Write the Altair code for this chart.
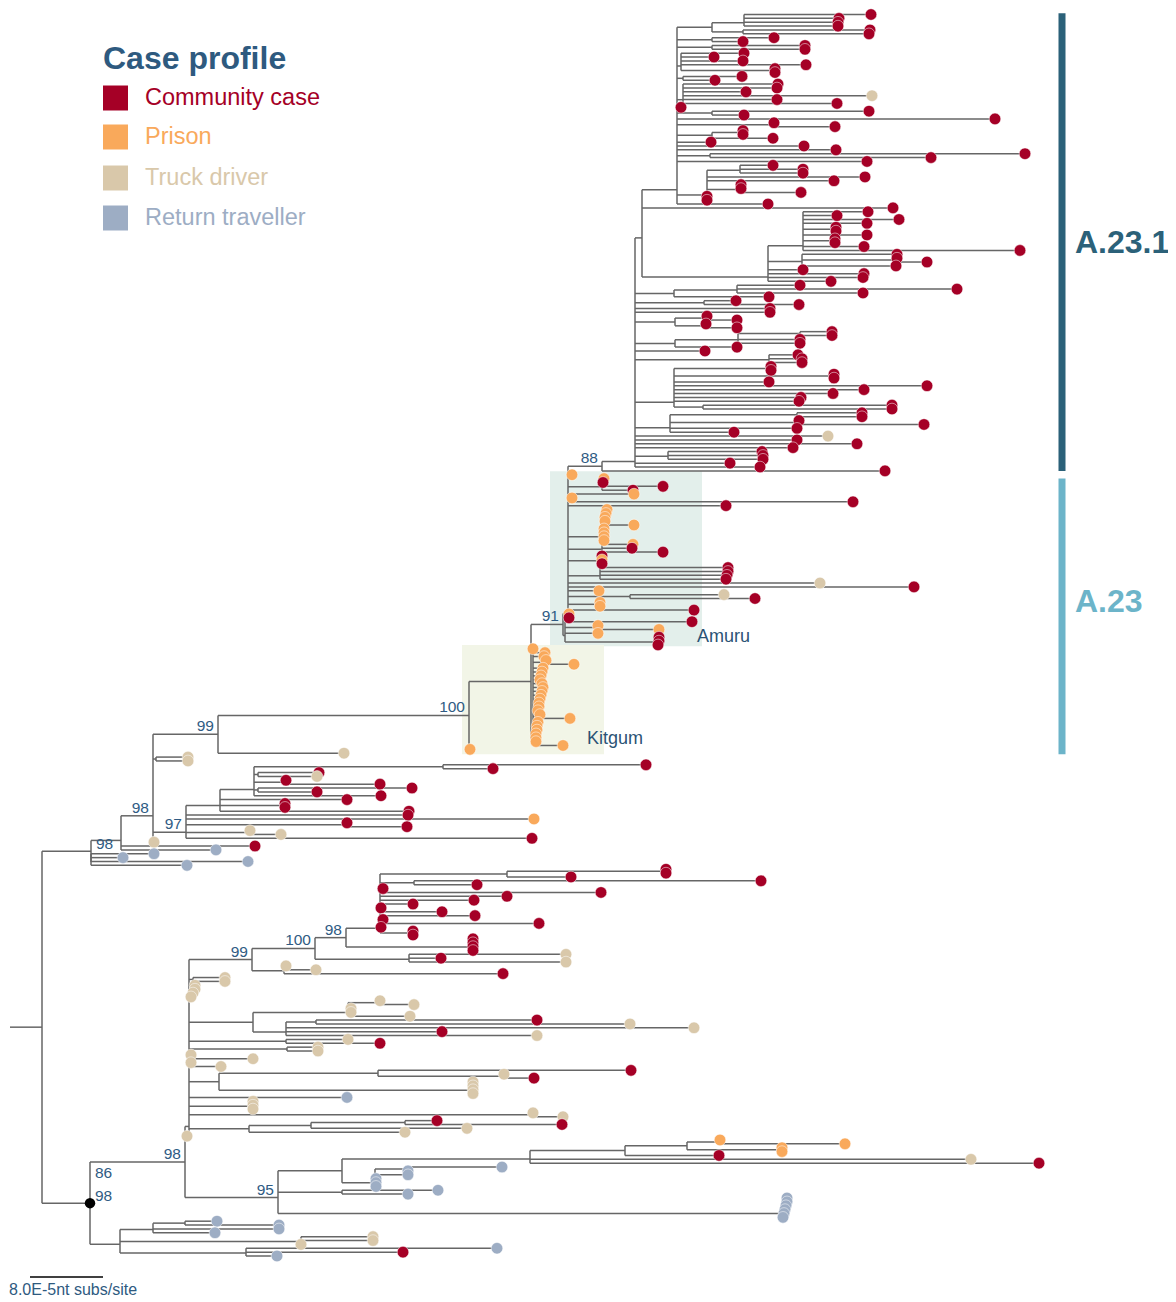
import altair as alt
import pandas as pd

# ---------------- data ----------------
CATEGORIES = ["Community case", "Prison", "Truck driver", "Return traveller"]
CODES = ["C", "P", "T", "R"]
COLORS = ["#a50026", "#f9a95b", "#d9c8aa", "#9dadc4"]

SCALE_LABEL = "8.0E-5nt subs/site"
SCALE_LEN = 73          # divergence units of the scale bar (= 8.0E-5 subs/site)
ROOT_STEM = 10          # divergence at the start of the root branch

# Tree: tip = <case code><divergence>; node = (children)<divergence>[#support][r][*][@name]
SUB_A = ("(((C871,C839,C838,C838)744,(C870,C869)743)712,(C774,C743)712,(C805,C805)712,"
         "(C744,C714,C743,C806,(C775,C775)775)681,(C742,C715)683,(C778,C777,C746,T872,C777,C837)683,"
         "C681,(C869,C744)712,C995,(C774,C835)773,((C743,C743)743,C773)712,C711,C804,C836,"
         "(C1025,C931)710,C867,((C773,C803,C803)740,C865,C834,(C741,C741,C801)741,C707,C707)707,C768)677")
SUB_B = ("((C868,C837,C899,C867,(C836,C836)836,C867,(C835,C835)835,C864,C1020)803,"
         "(C897,(C897,C927)897,C896)802,C803,C864,C863,C831)768")
A231 = ("((" + SUB_A + ",C893," + SUB_B + ")642,((C800,C957,C863)737,C769)674,(C736,C799)704,C770,C770,"
        "((C707,C737)707,(C706,C737)706)675,(((C832,C832)800,C800,C800)738,C737)675,C705,(C798,C802,C802)769,"
        "((C771,C771)771,(C834,C834)834,C769,C927,C864,C833,C801,C799,(C892,C892)703)674,"
        "((C862,C862)797,(C799,C924)799,C797,C734)670,T828,C797,C857,C793,(C762,C763,C763)668,C730,C760)635")
N88 = "(" + A231 + ",C885)602#88@A231"
AMURU_UP = ("(" + N88 + ",P572,(P604,C603,C663,C633)602,P634,P572,C853,C726,"
            "(P607,P606,P605,P605,P634,P604,P604,P604,P604)603,(P633,C632,C663)602,(C602,P602,C602)601,"
            "(C728,C728,C727,C726)600,T820,C914,P599,(T724,C755)630,(P600,P600)600,C694,P569,C569)568")
AMURU_LOW = "(C692,(P598,P659)598,P598,(C659,C659,C658)658)565"
N91 = "(" + AMURU_UP + "," + AMURU_LOW + ")563#91@N91"
KITGUM = ("(P533,P545,P544,(P546,P574)546,P543,P542,P541,P540,P542,P543,P542,P541,P540,P539,P539,P538,"
          "(P540,P570)540,P538,P537,P537,P536,P536,(P536,P563)536)533@KIT")
N100 = "((" + N91 + "," + KITGUM + ")531,P470)469#100@A23"
N99 = "(" + N100 + ",T344)218#99"
N254 = "((C646,C493)443,(C319,T317)258,(C286,C380)286,(C412,C317)258,C381)254"
N220 = "(" + N254 + ",C347,(C285,C285)284,C409)220"
N186 = "(" + N220 + ",C408,P534,(C347,C407)347,(T250,T281)250,C532)186#97"
N153 = "(" + N99 + ",(T188,T188)156," + N186 + ",T154)153#98"
N121 = "(" + N153 + ",C255,R216)121"
UPPER = "(" + N121 + ",(R154,R123,R248,R187)91)91#98r"

N380 = ("(((C666,C666)665,C571)507,(C761,C477)414,C383,C601,C507,C474,C413,C381,C442,C475,"
        "C383,C539,C381,(C413,C413)413)380")
N252 = ("(((" + N380 + ",(C473,C473,C473,C473)472)346#98,(T566,C441,T566)409)315#100,"
        "((T286,T316)286,C503)284)252#99")
N253 = "(((T380,T414)380,T351,T351,T410)348,((C537,T630)316,T694,C442,T537)286)253"
N219 = "((C631,(T504,C534)504)378,(T473,T473,T473,T473)473)219"
N249 = "(((C437,C562)405,T467)311,T405)249"
REST = ("(" + N252 + ",(T225,T225)193,T195,T195,T193,T191," + N253 + ",(T348,C380)286,(T318,T318)287,"
        "(T191,T253)191,(T191,T221)191," + N219 + ",R347,(T253,T253,T253)252,(T533,T563)533," + N249 + ",T187)189")
N530 = "((((P720,P845)720,(P782,P782)782)687,C719)625,T971,C1039)530"
N375 = "((R502,R408)408,R408,R376,R376,R376)375"
N278 = "((" + N530 + "," + N375 + ")342,(R438,R408)342,(R787,R787,R786,R785,R784,R783)783)278#95"
N185 = "(" + REST + "," + N278 + ")185#98"
N120 = "(((R217,R279)185,R279,R215)153,(T373,T373,T301)301,(R497,C403,R277)246)120"
LOWER = "(" + N185 + "," + N120 + ")90#98r*@BLACK"
TREE = "(" + UPPER + "," + LOWER + ")42"

EXTRA_SUPPORT = "86"   # second support value printed beside the marked node

# ---------------- parse + layout ----------------
def parse_tree(s):
    pos = 0
    named = {}

    def number():
        nonlocal pos
        st = pos
        while pos < len(s) and (s[pos].isdigit() or s[pos] == "."):
            pos += 1
        return float(s[st:pos])

    def node():
        nonlocal pos
        if s[pos] == "(":
            pos += 1
            kids = [node()]
            while s[pos] == ",":
                pos += 1
                kids.append(node())
            pos += 1
            n = {"x": number(), "kids": kids, "label": None, "side": "l", "mark": False}
            while pos < len(s) and s[pos] in "#r*@":
                c = s[pos]
                pos += 1
                if c == "#":
                    st = pos
                    while pos < len(s) and s[pos].isdigit():
                        pos += 1
                    n["label"] = s[st:pos]
                elif c == "r":
                    n["side"] = "r"
                elif c == "*":
                    n["mark"] = True
                else:
                    st = pos
                    while pos < len(s) and s[pos].isalnum():
                        pos += 1
                    named[s[st:pos]] = n
            return n
        c = s[pos]
        pos += 1
        return {"x": number(), "cat": c}

    return node(), named


root, named = parse_tree(TREE)
tips, edges, labels, marks = [], [], [], []
counter = [0]


def layout(n):
    if "cat" in n:
        n["y"] = float(counter[0])
        n["tmin"] = n["tmax"] = counter[0]
        counter[0] += 1
        tips.append({"x": n["x"], "y": n["y"], "cat": CATEGORIES[CODES.index(n["cat"])]})
        return
    for k in n["kids"]:
        layout(k)
    y = n["kids"][0]["y"]
    for k in n["kids"][1:]:
        y = (y + k["y"]) / 2.0
    n["y"] = y
    n["tmin"] = n["kids"][0]["tmin"]
    n["tmax"] = n["kids"][-1]["tmax"]
    ys_ = [k["y"] for k in n["kids"]]
    if len(ys_) > 1:
        edges.append({"x": n["x"], "x2": n["x"], "y": min(ys_), "y2": max(ys_)})
    for k in n["kids"]:
        edges.append({"x": n["x"], "x2": k["x"], "y": k["y"], "y2": k["y"]})
    if n["label"]:
        labels.append({"x": n["x"], "y": n["y"], "t": n["label"], "side": n["side"]})
    if n["mark"]:
        marks.append({"x": n["x"], "y": n["y"]})


layout(root)
edges.append({"x": ROOT_STEM, "x2": root["x"], "y": root["y"], "y2": root["y"]})
n_tips = counter[0]

FIRST_TIP_Y, LAST_TIP_Y = 14.5, 1256.0
px_per_tip = (LAST_TIP_Y - FIRST_TIP_Y) / (n_tips - 1)
black = named["BLACK"]
labels.append({"x": black["x"], "y": black["y"] - 23 / px_per_tip, "t": EXTRA_SUPPORT, "side": "r"})

a231, n91, kit, a23 = named["A231"], named["N91"], named["KIT"], named["A23"]
boxes = pd.DataFrame([
    {"x": 550, "x2": 702, "y": a231["tmax"] + 1 - 0.9, "y2": n91["tmax"] + 0.35, "fill": "#e3efeb"},
    {"x": 462, "x2": 604, "y": kit["tmin"] - 1.0, "y2": a23["tmax"] + 1.3, "fill": "#f2f5e7"},
])
bars = pd.DataFrame([
    {"x": 1062, "y": a231["tmin"] - 0.35, "y2": a231["tmax"], "c": "#2b6179"},
    {"x": 1062, "y": a231["tmax"] + 2.0, "y2": a23["tmax"] + 1.3, "c": "#6cb4c9"},
])

# ---------------- chart ----------------
FONT = "Liberation Sans"
W, H = 1160, 1293
xs = alt.Scale(domain=[8, 8 + W], nice=False, zero=False)
ysc = alt.Scale(domain=[0, n_tips - 1], range=[FIRST_TIP_Y - 8, LAST_TIP_Y - 8], nice=False, zero=False)
X = lambda f: alt.X(f, type="quantitative", scale=xs, axis=None)
Y = lambda f: alt.Y(f, type="quantitative", scale=ysc, axis=None)

box_layer = alt.Chart(boxes).mark_rect().encode(
    x=X("x"), x2="x2", y=Y("y"), y2="y2", color=alt.Color("fill:N", scale=None))
bar_layer = alt.Chart(bars).mark_rule(strokeWidth=7).encode(
    x=X("x"), y=Y("y"), y2="y2", color=alt.Color("c:N", scale=None))
edge_layer = alt.Chart(pd.DataFrame(edges)).mark_rule(color="#666666", strokeWidth=1.5).encode(
    x=X("x"), x2="x2", y=Y("y"), y2="y2")
tip_layer = alt.Chart(pd.DataFrame(tips)).mark_circle(size=135, opacity=1, stroke="white", strokeWidth=0.5).encode(
    x=X("x"), y=Y("y"),
    color=alt.Color("cat:N", scale=alt.Scale(domain=CATEGORIES, range=COLORS), legend=None))
mark_layer = alt.Chart(pd.DataFrame(marks)).mark_circle(size=110, color="black", opacity=1).encode(
    x=X("x"), y=Y("y"))
lab_df = pd.DataFrame(labels)
lab_left = alt.Chart(lab_df[lab_df.side == "l"]).mark_text(
    align="right", baseline="middle", dx=-4, dy=-8, fontSize=15.5, font=FONT, color="#2f5b83").encode(
    x=X("x"), y=Y("y"), text="t:N")
lab_right = alt.Chart(lab_df[lab_df.side == "r"]).mark_text(
    align="left", baseline="middle", dx=5, dy=-7, fontSize=15.5, font=FONT, color="#2f5b83").encode(
    x=X("x"), y=Y("y"), text="t:N")

scale_bar = alt.Chart(pd.DataFrame([{"x": 30, "x2": 30 + SCALE_LEN}])).mark_rule(
    color="black", strokeWidth=1.6).encode(x=X("x"), x2="x2", y=alt.value(1277 - 8))


def txt(s, px, py, size, color, bold=False, align="left"):
    return alt.Chart(pd.DataFrame({"t": [s]})).mark_text(
        text=s, align=align, baseline="middle", fontSize=size, font=FONT,
        fontWeight="bold" if bold else "normal", color=color
    ).encode(x=alt.value(px - 8), y=alt.value(py - 8))


ann = [
    txt("Case profile", 103, 59, 32, "#2e5a7f", bold=True),
    txt("A.23.1", 1075, 243, 32, "#2b6179", bold=True),
    txt("A.23", 1075, 602, 32, "#6cb4c9", bold=True),
    txt("Amuru", 697, 637, 18, "#2b5375"),
    txt("Kitgum", 587, 739, 18, "#2b5375"),
    txt(SCALE_LABEL, 9, 1290, 16, "#2e5a7f"),
]
legend_rows = [98, 137, 178, 218]
for cat, col, ry in zip(CATEGORIES, COLORS, legend_rows):
    ann.append(alt.Chart(pd.DataFrame({"c": [cat]})).mark_square(size=625, color=col, opacity=1).encode(
        x=alt.value(115.5 - 8), y=alt.value(ry - 8)))
    ann.append(txt(cat, 145, ry, 23.5, col))

chart = alt.layer(
    box_layer, bar_layer, edge_layer, tip_layer, mark_layer, lab_left, lab_right, scale_bar, *ann
).properties(
    width=W, height=H, padding=0, autosize=alt.AutoSizeParams(type="none")
).configure_view(stroke=None)

chart.save("out.html", embed_options={"renderer": "svg", "actions": False})
